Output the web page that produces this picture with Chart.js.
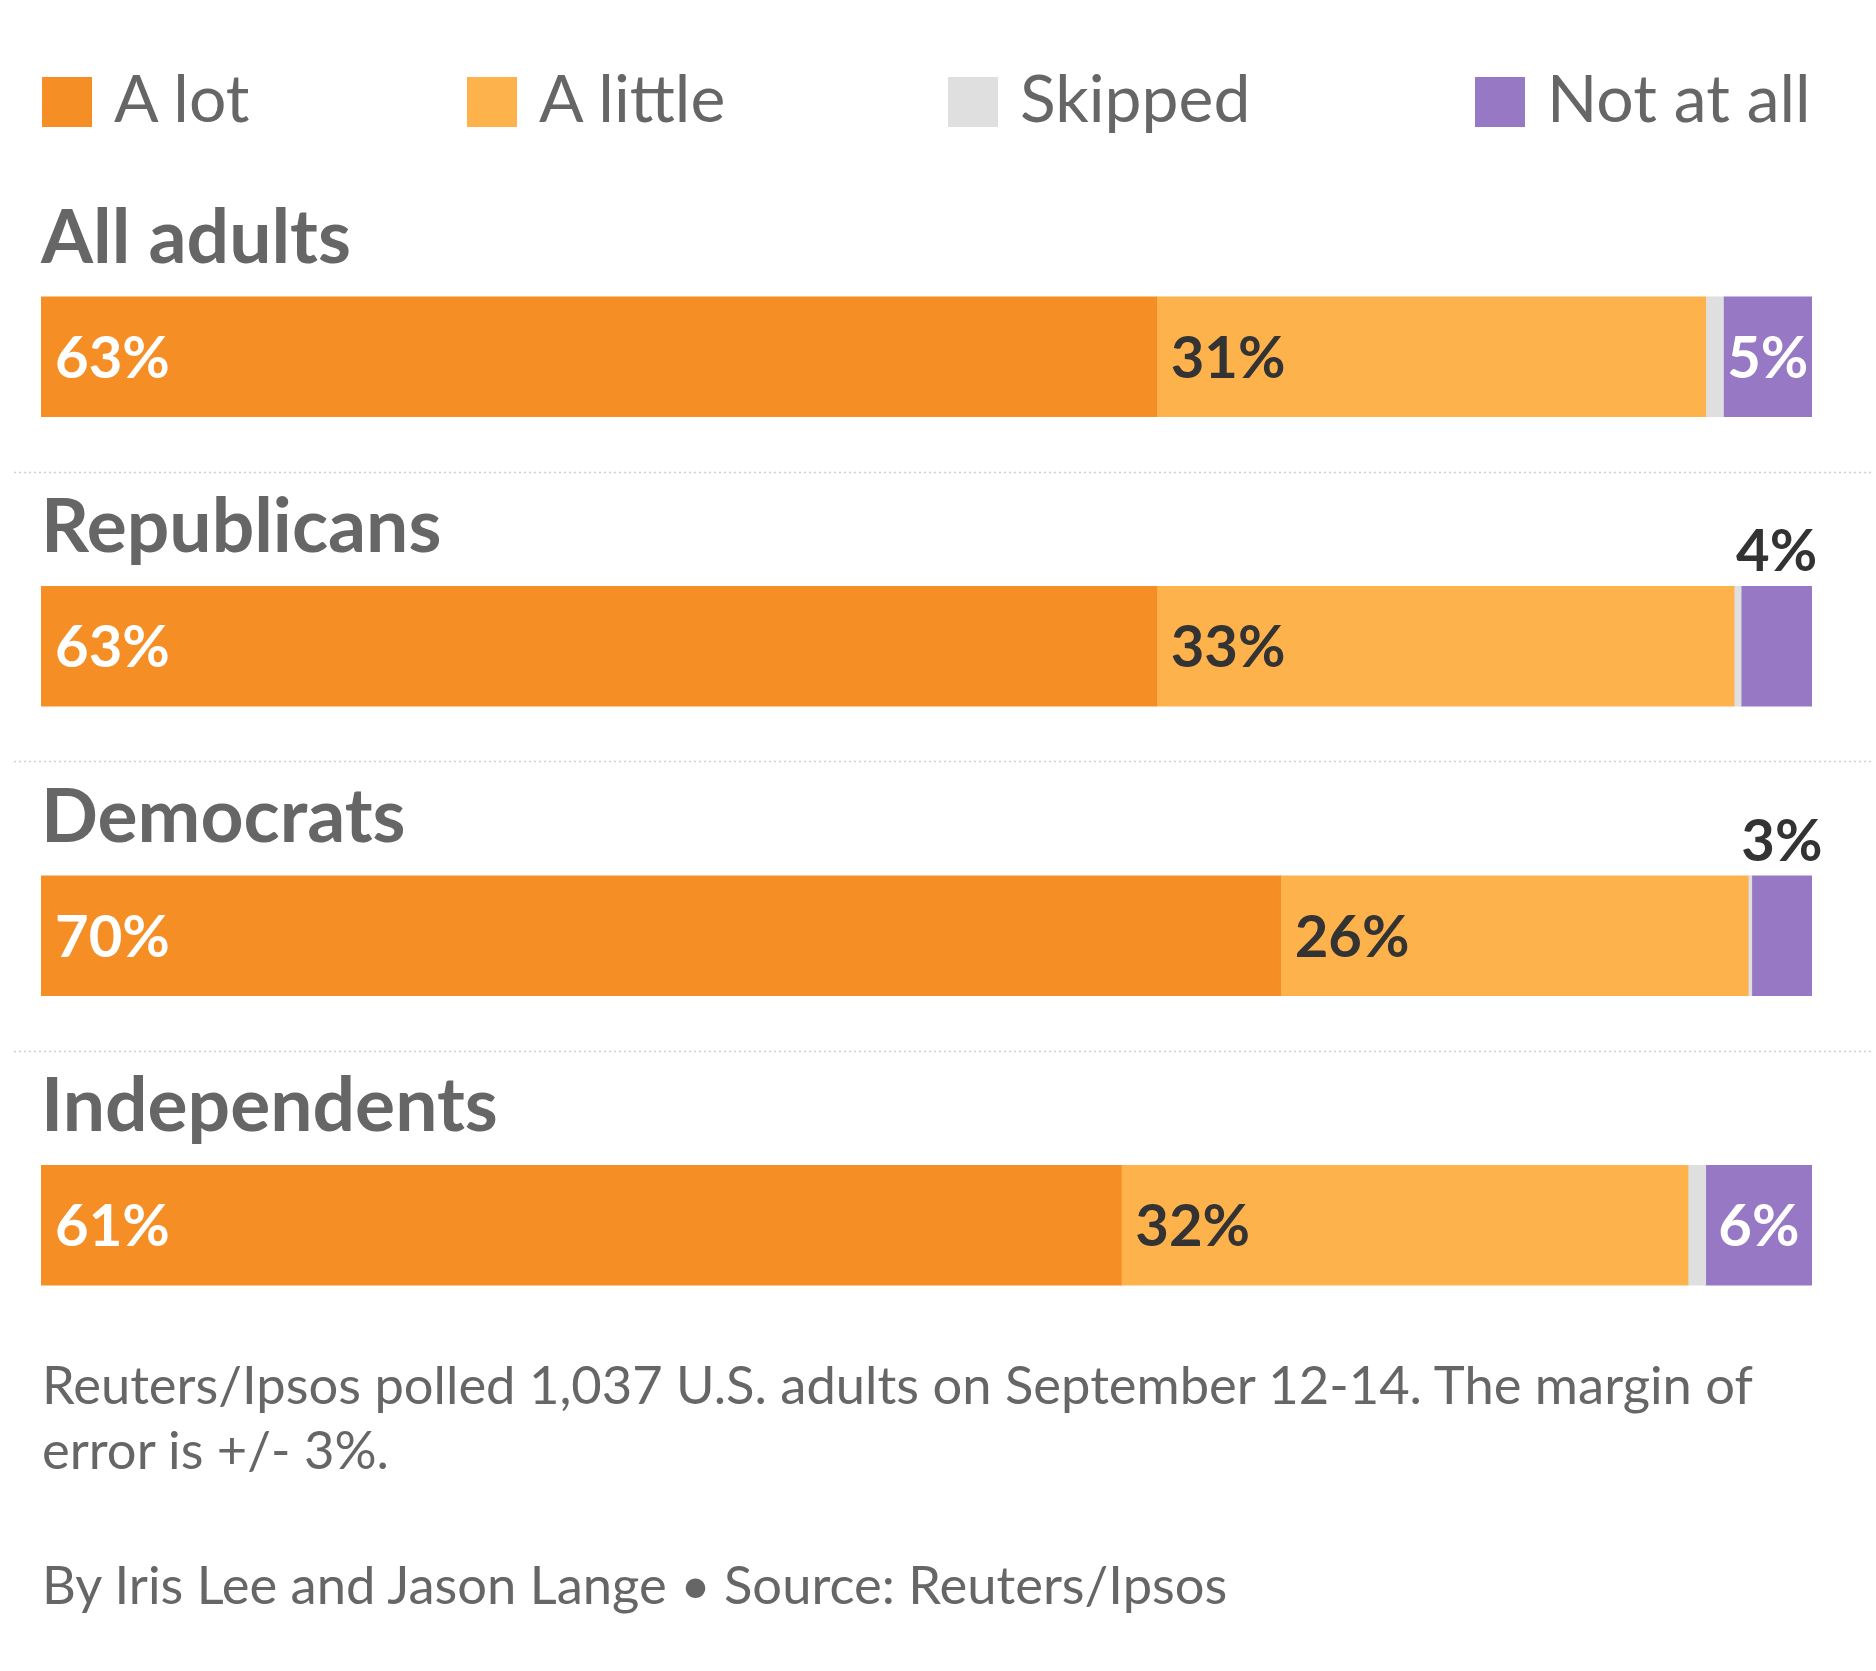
<!DOCTYPE html>
<html>
<head>
<meta charset="utf-8">
<script src="https://cdn.jsdelivr.net/npm/chart.js@4.4.1/dist/chart.umd.min.js"></script>
<style>
  html, body { margin: 0; padding: 0; background: #ffffff; }
  #wrap { position: relative; width: 1876px; height: 1671px; overflow: hidden; background: #fff; }
  #c { position: absolute; left: 0; top: 0; }
  .leg-item { position: absolute; top: 64px; height: 66px; font-family: Lato, sans-serif; font-size: 66px; line-height: 66px; color: #666666; white-space: nowrap; }
  .leg-sq { position: absolute; left: 0; top: 13px; width: 50px; height: 50px; }
  .leg-txt { position: absolute; left: 72px; top: 0; }
  .foot { position: absolute; left: 42px; font-family: Lato, sans-serif; font-size: 52.5px; line-height: 65px; color: #666666; white-space: nowrap; }
</style>
</head>
<body>
<div id="wrap">
  <canvas id="c" width="1876" height="1671"></canvas>
  <div id="legend"></div>
  <div class="foot" style="top:1351px">Reuters/Ipsos polled 1,037 U.S. adults on September 12-14. The margin of<br>error is +/- 3%.</div>
  <div class="foot" style="top:1551px">By Iris Lee and Jason Lange • Source: Reuters/Ipsos</div>
</div>
<script>
// ---- data ----
const categories = ['All adults', 'Republicans', 'Democrats', 'Independents'];
const seriesNames = ['A lot', 'A little', 'Skipped', 'Not at all'];
const aLot     = [63, 63, 70, 61];
const aLittle  = [31, 32.6, 26.4, 32];
const skipped  = [1, 0.4, 0.2, 1];
const notAtAll = [5, 4, 3.4, 6];

// ---- styles ----
const seriesColors = ['#f68e26', '#feb24c', '#dfdfdf', '#9678c4'];
const labelColors  = ['#ffffff', '#333333', null, '#ffffff'];
const legendLeft   = [42, 467, 948, 1475];

const seriesData = [aLot, aLittle, skipped, notAtAll];

// HTML legend built from series names/colours
const legendEl = document.getElementById('legend');
seriesNames.forEach((name, i) => {
  const item = document.createElement('div');
  item.className = 'leg-item';
  item.style.left = legendLeft[i] + 'px';
  const sq = document.createElement('div');
  sq.className = 'leg-sq';
  sq.style.background = seriesColors[i];
  const tx = document.createElement('div');
  tx.className = 'leg-txt';
  tx.textContent = name;
  item.appendChild(sq);
  item.appendChild(tx);
  legendEl.appendChild(item);
});

const separators = {
  id: 'separators',
  beforeDatasetsDraw(chart) {
    const ctx = chart.ctx;
    const ys = chart.scales.y;
    ctx.save();
    ctx.strokeStyle = '#cfcfcf';
    ctx.lineWidth = 1.5;
    ctx.setLineDash([2, 3]);
    for (let i = 0; i < categories.length - 1; i++) {
      const y = Math.round((ys.getPixelForValue(i) + ys.getPixelForValue(i + 1)) / 2 - 30) + 0.5;
      ctx.beginPath();
      ctx.moveTo(14, y);
      ctx.lineTo(1872, y);
      ctx.stroke();
    }
    ctx.restore();
  }
};

const valueLabels = {
  id: 'valueLabels',
  afterDatasetsDraw(chart) {
    const ctx = chart.ctx;
    const size = 58;
    const pad = 14;
    ctx.save();
    ctx.font = 'bold ' + size + 'px Lato, sans-serif';
    ctx.textBaseline = 'alphabetic';
    chart.data.datasets.forEach((ds, di) => {
      if (!labelColors[di]) return;
      const meta = chart.getDatasetMeta(di);
      meta.data.forEach((bar, i) => {
        const text = Math.round(ds.data[i]) + '%';
        const left = Math.min(bar.x, bar.base);
        const right = Math.max(bar.x, bar.base);
        const w = right - left;
        const tw = ctx.measureText(text).width;
        let x, y, color;
        if (tw + 2 * pad <= w) {
          ctx.textAlign = 'left';
          x = left + pad;
          y = bar.y + 21;
          color = labelColors[di];
        } else if (tw <= w) {
          ctx.textAlign = 'center';
          x = (left + right) / 2;
          y = bar.y + 21;
          color = labelColors[di];
        } else {
          ctx.textAlign = 'center';
          x = (left + right) / 2;
          y = bar.y - bar.height / 2 - 15;
          color = '#333333';
        }
        ctx.fillStyle = color;
        ctx.fillText(text, x, y);
      });
    });
    ctx.restore();
  }
};

new Chart(document.getElementById('c'), {
  type: 'bar',
  data: {
    labels: categories,
    datasets: seriesNames.map((name, i) => ({
      label: name,
      data: seriesData[i],
      backgroundColor: seriesColors[i],
      borderWidth: 0,
      barThickness: 120
    }))
  },
  options: {
    indexAxis: 'y',
    responsive: false,
    animation: false,
    devicePixelRatio: 1,
    layout: { padding: { left: 41, right: 64, top: 212, bottom: 301 } },
    scales: {
      x: { stacked: true, min: 0, max: 100, display: false },
      y: {
        stacked: true,
        grid: { display: false, drawTicks: false },
        border: { display: false },
        ticks: {
          mirror: true,
          padding: 0,
          labelOffset: -118,
          color: '#666666',
          font: { family: 'Lato', weight: 'bold', size: 75 }
        }
      }
    },
    plugins: { legend: { display: false }, tooltip: { enabled: false } }
  },
  plugins: [separators, valueLabels]
});
</script>
</body>
</html>
